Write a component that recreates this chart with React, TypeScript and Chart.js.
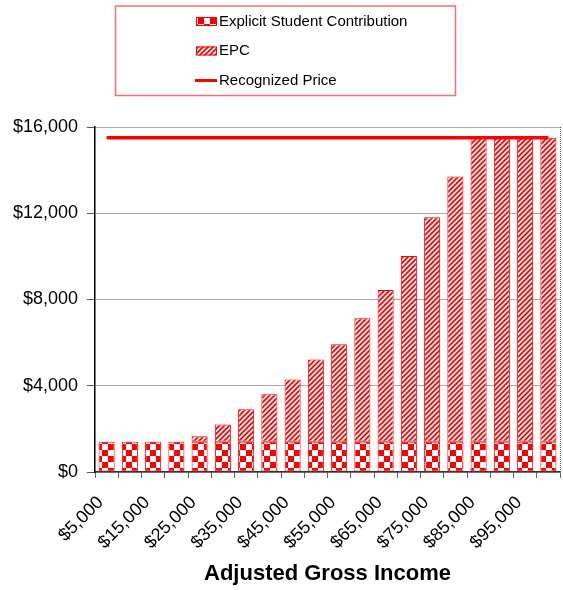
import React, { useEffect, useRef } from 'react';
import { Chart, registerables } from 'chart.js';

Chart.register(...registerables);

const incomeLabels = [
  '$5,000', '$10,000', '$15,000', '$20,000', '$25,000', '$30,000', '$35,000', '$40,000', '$45,000', '$50,000',
  '$55,000', '$60,000', '$65,000', '$70,000', '$75,000', '$80,000', '$85,000', '$90,000', '$95,000', '$100,000',
];
const explicitContribution = [
  1400, 1400, 1400, 1400, 1400, 1400, 1400, 1400, 1400, 1400,
  1400, 1400, 1400, 1400, 1400, 1400, 1400, 1400, 1400, 1400,
];
const epcValues = [
  0, 0, 0, 0, 260, 800, 1510, 2210, 2890, 3820,
  4530, 5725, 7040, 8620, 10420, 12300, 14100, 14100, 14100, 14100,
];
const recognizedPrice = [
  15500, 15500, 15500, 15500, 15500, 15500, 15500, 15500, 15500, 15500,
  15500, 15500, 15500, 15500, 15500, 15500, 15500, 15500, 15500, 15500,
];
const legendNames = ['Explicit Student Contribution', 'EPC', 'Recognized Price'];
const axisTitle = 'Adjusted Gross Income';

const FONT = 'Liberation Sans, Arial, sans-serif';

function makeChecker(): CanvasPattern {
  const c = document.createElement('canvas');
  c.width = 12;
  c.height = 12;
  const g = c.getContext('2d')!;
  g.fillStyle = '#ffffff';
  g.fillRect(0, 0, 12, 12);
  g.fillStyle = '#ff0000';
  g.fillRect(0, 0, 6, 6);
  g.fillRect(6, 6, 6, 6);
  return g.createPattern(c, 'repeat')!;
}

function makeHatch(): CanvasPattern {
  const s = 5;
  const c = document.createElement('canvas');
  c.width = s;
  c.height = s;
  const g = c.getContext('2d')!;
  g.fillStyle = '#ffffff';
  g.fillRect(0, 0, s, s);
  g.strokeStyle = '#ff0000';
  g.lineWidth = 1.8;
  g.beginPath();
  g.moveTo(-1, s + 1);
  g.lineTo(s + 1, -1);
  g.moveTo(-1, 1);
  g.lineTo(1, -1);
  g.moveTo(s - 1, s + 1);
  g.lineTo(s + 1, s - 1);
  g.stroke();
  return g.createPattern(c, 'repeat')!;
}

export default function App() {
  const ref = useRef<HTMLCanvasElement | null>(null);

  useEffect(() => {
    const canvas = ref.current;
    if (!canvas) return;
    const checker = makeChecker();
    const hatch = makeHatch();

    const decorPlugin = {
      id: 'decor',
      afterDraw(chart: any) {
        const ctx = chart.ctx as CanvasRenderingContext2D;
        const { chartArea } = chart;
        ctx.save();
        // dotted right border of plot area
        ctx.strokeStyle = '#555';
        ctx.lineWidth = 1;
        ctx.setLineDash([1, 1]);
        ctx.beginPath();
        ctx.moveTo(chartArea.right + 0.5, chartArea.top);
        ctx.lineTo(chartArea.right + 0.5, chartArea.bottom);
        ctx.stroke();
        ctx.setLineDash([]);

        // legend box
        ctx.strokeStyle = '#f27070';
        ctx.lineWidth = 1.5;
        ctx.strokeRect(115.5, 6, 340, 89.5);

        const mx = 196;
        const mw = 21;
        const tx = 219;
        const rows = [21.5, 51, 80.5];
        ctx.font = `15px ${FONT}`;
        ctx.textBaseline = 'middle';
        ctx.textAlign = 'left';

        ctx.fillStyle = checker;
        ctx.fillRect(mx, rows[0] - 4.5, mw, 9);
        ctx.strokeStyle = '#ff0000';
        ctx.lineWidth = 1;
        ctx.strokeRect(mx + 0.5, rows[0] - 4, mw - 1, 8);
        ctx.fillStyle = hatch;
        ctx.fillRect(mx, rows[1] - 4.5, mw, 9);
        ctx.strokeRect(mx + 0.5, rows[1] - 4, mw - 1, 8);
        ctx.strokeStyle = '#ff0000';
        ctx.lineWidth = 3;
        ctx.beginPath();
        ctx.moveTo(mx - 1, rows[2]);
        ctx.lineTo(mx + mw, rows[2]);
        ctx.stroke();

        ctx.fillStyle = '#000';
        legendNames.forEach((n, i) => ctx.fillText(n, tx, rows[i]));
        ctx.restore();
      },
    };

    const chart = new Chart(canvas, {
      type: 'bar',
      data: {
        labels: incomeLabels,
        datasets: [
          {
            type: 'line',
            label: legendNames[2],
            data: recognizedPrice,
            borderColor: '#ff0000',
            borderWidth: 3.5,
            pointRadius: 0,
            fill: false,
            order: 0,
          } as any,
          {
            type: 'bar',
            label: legendNames[0],
            data: explicitContribution,
            backgroundColor: checker,
            borderColor: '#ff0000',
            borderWidth: 1,
            borderSkipped: false,
            barPercentage: 0.69,
            categoryPercentage: 1,
            order: 1,
          },
          {
            type: 'bar',
            label: legendNames[1],
            data: epcValues,
            backgroundColor: hatch,
            borderColor: '#ff0000',
            borderWidth: 1,
            borderSkipped: false,
            barPercentage: 0.69,
            categoryPercentage: 1,
            order: 1,
          },
        ],
      },
      options: {
        animation: false,
        responsive: false,
        maintainAspectRatio: false,
        layout: { padding: { top: 127, right: 3, left: 0, bottom: 0 } },
        plugins: {
          legend: { display: false },
          tooltip: { enabled: false },
        },
        scales: {
          x: {
            stacked: true,
            afterFit: (scale: any) => {
              scale.height = 118;
              scale.paddingLeft = 0;
              scale.paddingRight = 0;
            },
            grid: {
              display: true,
              drawOnChartArea: false,
              drawTicks: true,
              tickLength: 6,
              color: '#666',
            },
            border: { display: true, color: '#333', width: 1.5 },
            ticks: {
              autoSkip: false,
              maxRotation: 45,
              minRotation: 45,
              padding: 14,
              labelOffset: -6,
              color: '#000',
              font: { family: FONT, size: 18 },
              callback: (_v: any, i: number) => (i % 2 === 0 ? incomeLabels[i] : ''),
            },
            title: {
              display: true,
              text: axisTitle,
              color: '#000',
              font: { family: FONT, size: 22, weight: 'bold' },
              padding: { top: 0, bottom: 3 },
            },
          },
          y: {
            stacked: true,
            min: 0,
            max: 16000,
            afterFit: (scale: any) => {
              scale.width = 95;
            },
            grid: {
              color: '#555',
              tickBorderDash: [],
              tickColor: '#555',
              tickLength: 8,
            } as any,
            border: { display: true, color: '#000', width: 1.5, dash: [1, 1] },
            ticks: {
              stepSize: 4000,
              padding: 9,
              color: '#000',
              font: { family: FONT, size: 18 },
              callback: (v: any) => '$' + Number(v).toLocaleString('en-US'),
            },
          },
        },
      },
      plugins: [decorPlugin],
    });

    return () => chart.destroy();
  }, []);

  return (
    <div style={{ position: 'absolute', left: 0, top: 0, width: 563, height: 590, background: '#fff' }}>
      <canvas ref={ref} width={563} height={590} style={{ display: 'block' }} />
    </div>
  );
}
